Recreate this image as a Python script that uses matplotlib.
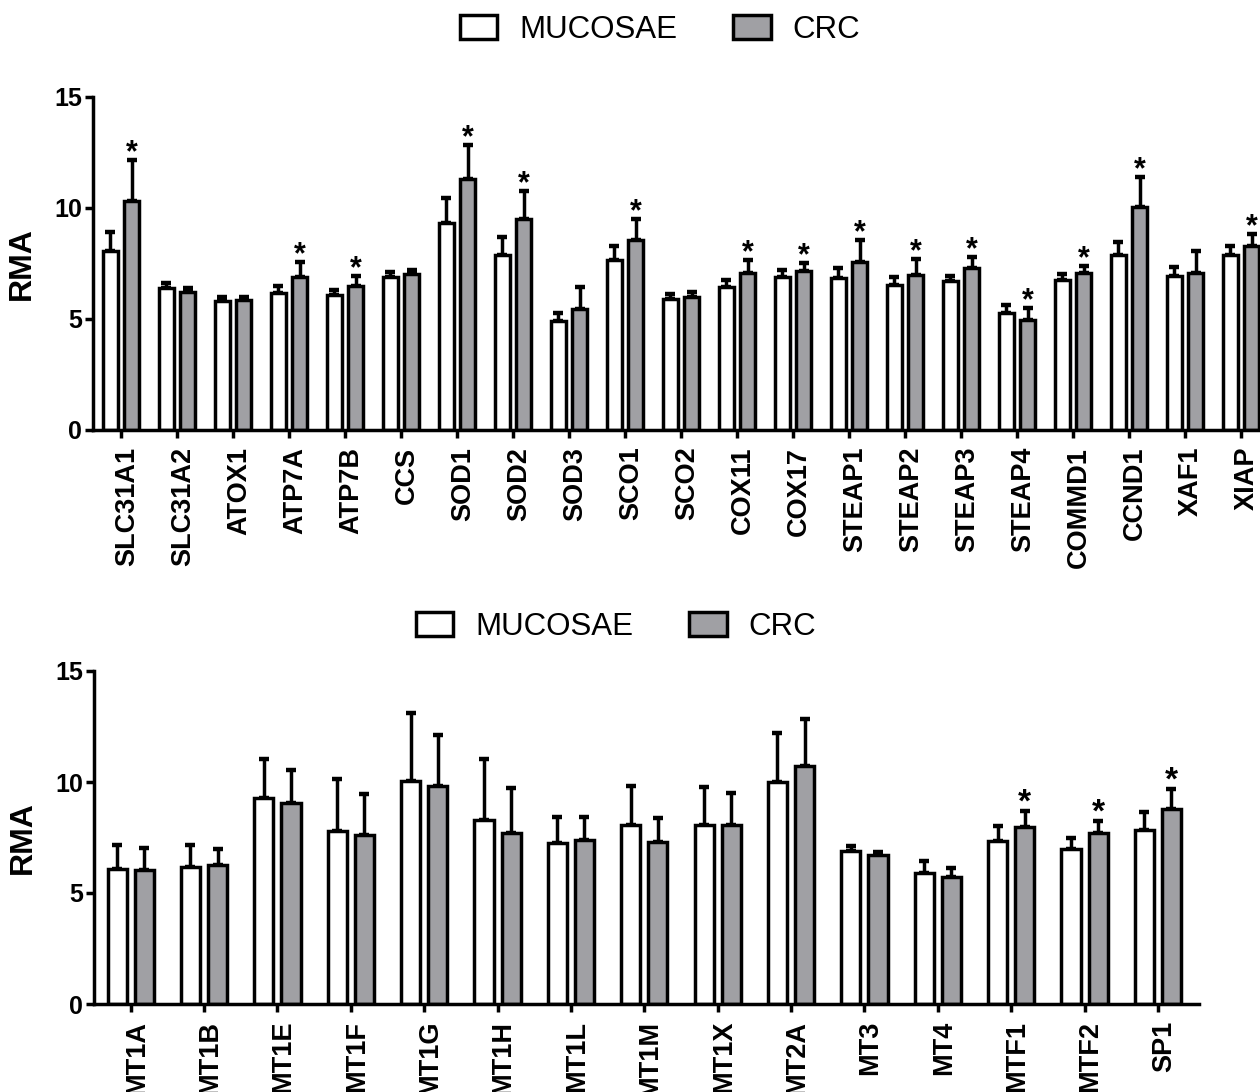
###################IMPORTS#########################
import matplotlib
matplotlib.use('Agg')
import matplotlib.pyplot as plt
import matplotlib.transforms as mtransforms
from matplotlib.patches import Patch
import numpy as np

####################DATA###############################
genes_top = ['SLC31A1', 'SLC31A2', 'ATOX1', 'ATP7A', 'ATP7B', 'CCS', 'SOD1', 'SOD2',
             'SOD3', 'SCO1', 'SCO2', 'COX11', 'COX17', 'STEAP1', 'STEAP2', 'STEAP3',
             'STEAP4', 'COMMD1', 'CCND1', 'XAF1', 'XIAP']
mucosae_top = [8.07, 6.39, 5.82, 6.18, 6.08, 6.87, 9.31, 7.89, 4.93, 7.67, 5.89,
               6.42, 6.90, 6.83, 6.51, 6.71, 5.26, 6.74, 7.88, 6.95, 7.88]
mucosae_top_err = [0.86, 0.23, 0.15, 0.32, 0.22, 0.24, 1.13, 0.80, 0.36, 0.63, 0.23,
                   0.33, 0.32, 0.46, 0.38, 0.22, 0.35, 0.28, 0.59, 0.40, 0.41]
crc_top = [10.30, 6.23, 5.85, 6.87, 6.50, 7.02, 11.32, 9.49, 5.44, 8.57, 6.00,
           7.07, 7.17, 7.55, 7.00, 7.28, 4.96, 7.07, 10.06, 7.05, 8.27]
crc_top_err = [1.87, 0.16, 0.12, 0.71, 0.42, 0.20, 1.51, 1.28, 1.01, 0.93, 0.20,
               0.58, 0.33, 1.02, 0.70, 0.52, 0.53, 0.31, 1.35, 1.03, 0.54]
star_top = [1, 0, 0, 1, 1, 0, 1, 1, 0, 1, 0, 1, 1, 1, 1, 1, 1, 1, 1, 0, 1]

genes_bot = ['MT1A', 'MT1B', 'MT1E', 'MT1F', 'MT1G', 'MT1H', 'MT1L', 'MT1M', 'MT1X',
             'MT2A', 'MT3', 'MT4', 'MTF1', 'MTF2', 'SP1']
mucosae_bot = [6.10, 6.19, 9.28, 7.81, 10.06, 8.28, 7.26, 8.05, 8.07, 10.02, 6.88,
               5.92, 7.35, 7.00, 7.86]
mucosae_bot_err = [1.05, 0.99, 1.76, 2.31, 3.06, 2.74, 1.15, 1.77, 1.71, 2.19, 0.24,
                   0.51, 0.69, 0.48, 0.79]
crc_bot = [6.03, 6.25, 9.07, 7.63, 9.81, 7.71, 7.38, 7.29, 8.07, 10.72, 6.69,
           5.71, 7.96, 7.71, 8.79]
crc_bot_err = [1.00, 0.75, 1.49, 1.82, 2.31, 2.01, 1.03, 1.11, 1.44, 2.12, 0.16,
               0.42, 0.74, 0.54, 0.91]
star_bot = [0, 0, 0, 0, 0, 0, 0, 0, 0, 0, 0, 0, 1, 1, 1]

####################SETTINGS###############################
plt.rcParams['font.family'] = ['Liberation Sans', 'DejaVu Sans']
grey = '#a0a0a4'
lw = 2.5

fig = plt.figure(figsize=(12.6, 10.92), dpi=100)


def draw_panel(ax, genes, muc, muc_err, crc, crc_err, stars, offset, width, xmax, star_size):
    x = np.arange(len(genes))
    ax.bar(x - offset, muc, width, color='white', edgecolor='black', linewidth=lw, zorder=2)
    ax.bar(x + offset, crc, width, color=grey, edgecolor='black', linewidth=lw, zorder=2)
    zeros = np.zeros(len(genes))
    ax.errorbar(x - offset, muc, yerr=[zeros, muc_err], fmt='none', ecolor='black',
                elinewidth=lw, capsize=3.5, capthick=3.2, zorder=1)
    ax.errorbar(x + offset, crc, yerr=[zeros, crc_err], fmt='none', ecolor='black',
                elinewidth=lw, capsize=3.5, capthick=3.2, zorder=1)
    for i in range(len(genes)):
        if stars[i]:
            ax.text(x[i] + offset, crc[i] + crc_err[i] - 0.05, '*', ha='center',
                    va='baseline', fontsize=star_size, fontweight='bold')

    ax.set_xlim(-0.5, xmax)
    ax.set_ylim(0, 15)
    ax.set_yticks([0, 5, 10, 15])
    ax.set_xticks(x)
    ax.set_xticklabels(genes, rotation=90, fontsize=19.5, fontweight='bold')
    for lab in ax.get_yticklabels():
        lab.set_fontsize(18)
        lab.set_fontweight('bold')
    ax.set_ylabel('RMA', fontsize=23, fontweight='bold', labelpad=12)
    ax.spines['top'].set_visible(False)
    ax.spines['right'].set_visible(False)
    ax.spines['left'].set_linewidth(lw)
    ax.spines['bottom'].set_linewidth(lw)
    ax.tick_params(axis='both', direction='out', length=6, width=lw)
    ax.tick_params(axis='x', pad=6)
    ax.tick_params(axis='y', pad=2)
    shift = mtransforms.ScaledTranslation(6 / 100, 0, fig.dpi_scale_trans)
    for lab in ax.get_xticklabels():
        lab.set_transform(lab.get_transform() + shift)


ax1 = fig.add_axes([93 / 1260, 1 - 430 / 1092, 1 - 93 / 1260, 333 / 1092])
draw_panel(ax1, genes_top, mucosae_top, mucosae_top_err, crc_top, crc_top_err,
           star_top, 0.19, 0.27, 20.34, 22)

ax2 = fig.add_axes([94 / 1260, 1 - 1004 / 1092, 1105 / 1260, 333 / 1092])
draw_panel(ax2, genes_bot, mucosae_bot, mucosae_bot_err, crc_bot, crc_bot_err,
           star_bot, 0.185, 0.26, 14.56, 24)

###############legends
handles = [Patch(facecolor='white', edgecolor='black', linewidth=lw, label='MUCOSAE'),
           Patch(facecolor=grey, edgecolor='black', linewidth=lw, label='CRC')]
for cx, cy in [(660, 30), (616, 627)]:
    fig.legend(handles=handles, loc='center', bbox_to_anchor=(cx / 1260, 1 - cy / 1092),
               ncol=2, frameon=False, fontsize=22.5, handlelength=1.2, handleheight=0.82,
               handletextpad=0.7, columnspacing=1.8, borderpad=0)

fig.savefig('out.png', dpi=100)
